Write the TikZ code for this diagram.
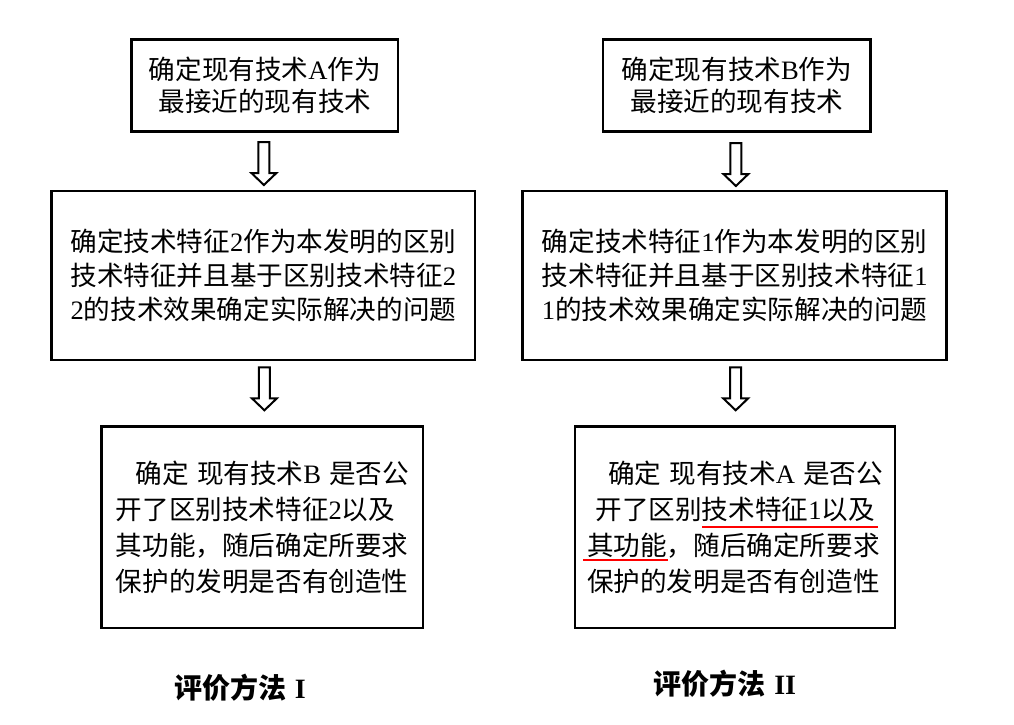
\documentclass[tikz,border=0pt]{standalone}
\usepackage{fontspec}
\setmainfont{Liberation Serif}
\newfontfamily\cjk{Noto Sans CJK SC}
\newfontfamily\lm{Liberation Serif}
\newcommand\lt[1]{{\lm #1}}
\usetikzlibrary{calc}
\tikzset{
  box/.style={draw, line width=2.6pt, inner sep=0pt, align=center},
  boxleft/.style={draw, line width=2.6pt, inner sep=0pt, align=left},
  hollowdown/.pic={
    \draw[line width=2pt, fill=white] (-5.5,0) -- (5.5,0) -- (5.5,31) -- (12.5,31) -- (0,43) -- (-12.5,31) -- (-5.5,31) -- cycle;
  },
  redline/.style={red, line width=2.6pt},
  caption/.style={font=\cjk\bfseries\fontsize{28}{32}\selectfont, inner sep=0pt}
}
\begin{document}
\begin{tikzpicture}[x=1pt,y=-1pt]
\useasboundingbox[fill=white] (0,0) rectangle (1014,724);
% left column
\node[box, minimum width=266.3pt, minimum height=92.4pt, font=\cjk\fontsize{26.6}{32}\selectfont] (L1) at (264.9,85.5)
  {确定现有技术\lt{A}作为\\最接近的现有技术};
\node[box, minimum width=423.3pt, minimum height=169pt, font=\cjk\fontsize{26.6}{34}\selectfont] (L2) at (263.4,275.5)
  {确定技术特征\lt{2}作为本发明的区别\\技术特征并且基于区别技术特征\lt{2}\\\lt{2}的技术效果确定实际解决的问题};
\node[boxleft, minimum width=321.3pt, minimum height=201.3pt, font=\cjk\fontsize{26.6}{36}\selectfont] (L3) at (262.4,527.3)
  {\hspace*{0.75em}确定\hspace{0.3em}现有技术\lt{B}\hspace{0.3em}是否公\\开了区别技术特征\lt{2}以及\\其功能，随后确定所要求\\保护的发明是否有创造性};
% right column
\node[box, minimum width=267.7pt, minimum height=92.4pt, font=\cjk\fontsize{26.6}{32}\selectfont] (R1) at (736.9,85.5)
  {确定现有技术\lt{B}作为\\最接近的现有技术};
\node[box, minimum width=424pt, minimum height=169pt, font=\cjk\fontsize{26.6}{34}\selectfont] (R2) at (734.7,275.5)
  {确定技术特征\lt{1}作为本发明的区别\\技术特征并且基于区别技术特征\lt{1}\\\lt{1}的技术效果确定实际解决的问题};
\node[boxleft, minimum width=320pt, minimum height=201.3pt, font=\cjk\fontsize{26.6}{36}\selectfont] (R3) at (735,527.3)
  {\hspace*{0.8em}确定\hspace{0.3em}现有技术\lt{A}\hspace{0.3em}是否公\\\hspace*{8.5pt}开了区别技术特征\lt{1}以及\\其功能，随后确定所要求\\保护的发明是否有创造性};
% arrows
\pic at ($(L1.south)+(-1,9)$) {hollowdown};
\pic at ($(L2.south)+(1,6)$) {hollowdown};
\pic at ($(R1.south)+(-1,10)$) {hollowdown};
\pic at ($(R2.south)+(1,6)$) {hollowdown};
% red underlines
\coordinate (u1a) at (702,527);
\coordinate (u1b) at (878,527);
\coordinate (u2a) at (583,560);
\coordinate (u2b) at (668,560);
\draw[redline] (u1a) -- (u1b);
\draw[redline] (u2a) -- (u2b);
% captions
\node[caption] (capL) at (240,688) {评价方法\hspace{0.3em}{\lm\bfseries I}};
\node[caption] (capR) at (725,684) {评价方法\hspace{0.3em}{\lm\bfseries II}};
\end{tikzpicture}
\end{document}
